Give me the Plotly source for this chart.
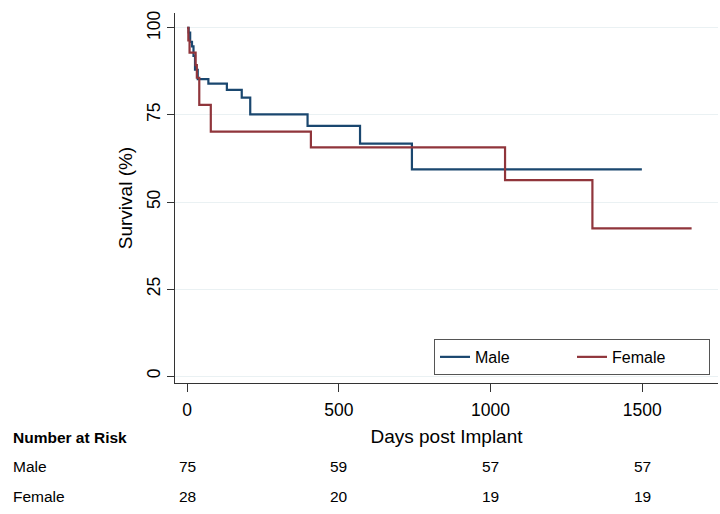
import plotly.graph_objects as go

# Kaplan-Meier step data
male_days = [0, 5, 10, 16, 21, 26, 35, 70, 131, 180, 208, 397, 570, 741, 1499]
male_surv = [100, 98.7, 96, 94.7, 92, 88, 85.3, 84, 82.2, 80, 75.2, 71.9, 66.8, 59.4, 59.4]

female_days = [0, 4, 8, 28, 32, 40, 78, 408, 1048, 1336, 1663]
female_surv = [100, 96.4, 92.9, 89.3, 85.7, 77.9, 70.2, 65.7, 56.3, 42.4, 42.4]

risk_times = [0, 500, 1000, 1500]
risk_male = [75, 59, 57, 57]
risk_female = [28, 20, 19, 19]

x_ticks = [0, 500, 1000, 1500]
y_ticks = [0, 25, 50, 75, 100]

FONT = "Liberation Sans, Arial, sans-serif"

fig = go.Figure()
fig.add_trace(go.Scatter(x=male_days, y=male_surv, mode="lines", name="Male",
                         line=dict(color="#1a476f", width=2.2, shape="hv")))
fig.add_trace(go.Scatter(x=female_days, y=female_surv, mode="lines", name="Female",
                         line=dict(color="#90353b", width=2.2, shape="hv")))

annotations = []
annotations.append(dict(text="<b>Number at Risk</b>", xref="paper", yref="paper",
                        x=-0.302, y=-0.148, xanchor="left", yanchor="middle",
                        showarrow=False, font=dict(size=15.5, color="#000", family=FONT)))
for label, vals, yp in [("Male", risk_male, -0.227), ("Female", risk_female, -0.308)]:
    annotations.append(dict(text=label, xref="paper", yref="paper", x=-0.302, y=yp,
                            xanchor="left", yanchor="middle", showarrow=False,
                            font=dict(size=15.5, color="#000", family=FONT)))
    for t, v in zip(risk_times, vals):
        annotations.append(dict(text=str(v), xref="x", yref="paper", x=t, y=yp,
                                xanchor="center", yanchor="middle", showarrow=False,
                                font=dict(size=15.5, color="#000", family=FONT)))

fig.update_layout(
    width=720, height=514,
    margin=dict(l=175, r=2, t=13, b=131),
    paper_bgcolor="white", plot_bgcolor="white",
    font=dict(family=FONT, size=16, color="#000"),
    showlegend=True,
    legend=dict(orientation="h", x=0.477, y=0.119, xanchor="left", yanchor="top",
                bordercolor="#555", borderwidth=1, bgcolor="white",
                font=dict(size=16, family=FONT), entrywidth=92),
    xaxis=dict(range=[-40, 1750], tickvals=x_ticks, ticks="outside", ticklen=8,
               tickcolor="#333", showline=True, linecolor="#333", linewidth=1,
               showgrid=False, zeroline=False, mirror=False, ticklabelstandoff=3,
               title=dict(text="Days post Implant", font=dict(size=19), standoff=10),
               tickfont=dict(size=17.5)),
    yaxis=dict(range=[-2.0, 104.3], tickvals=y_ticks, ticks="outside", ticklen=7,
               tickcolor="#333", showline=True, linecolor="#333", linewidth=1,
               showgrid=True, gridcolor="#eaf1f3", gridwidth=1, zeroline=False,
               tickangle=-90,
               title=dict(text="Survival (%)", font=dict(size=19), standoff=6),
               tickfont=dict(size=17.5)),
    annotations=annotations,
)

fig.write_html("out.html", config={"displayModeBar": False},
               post_script="document.body.style.margin='0';")
